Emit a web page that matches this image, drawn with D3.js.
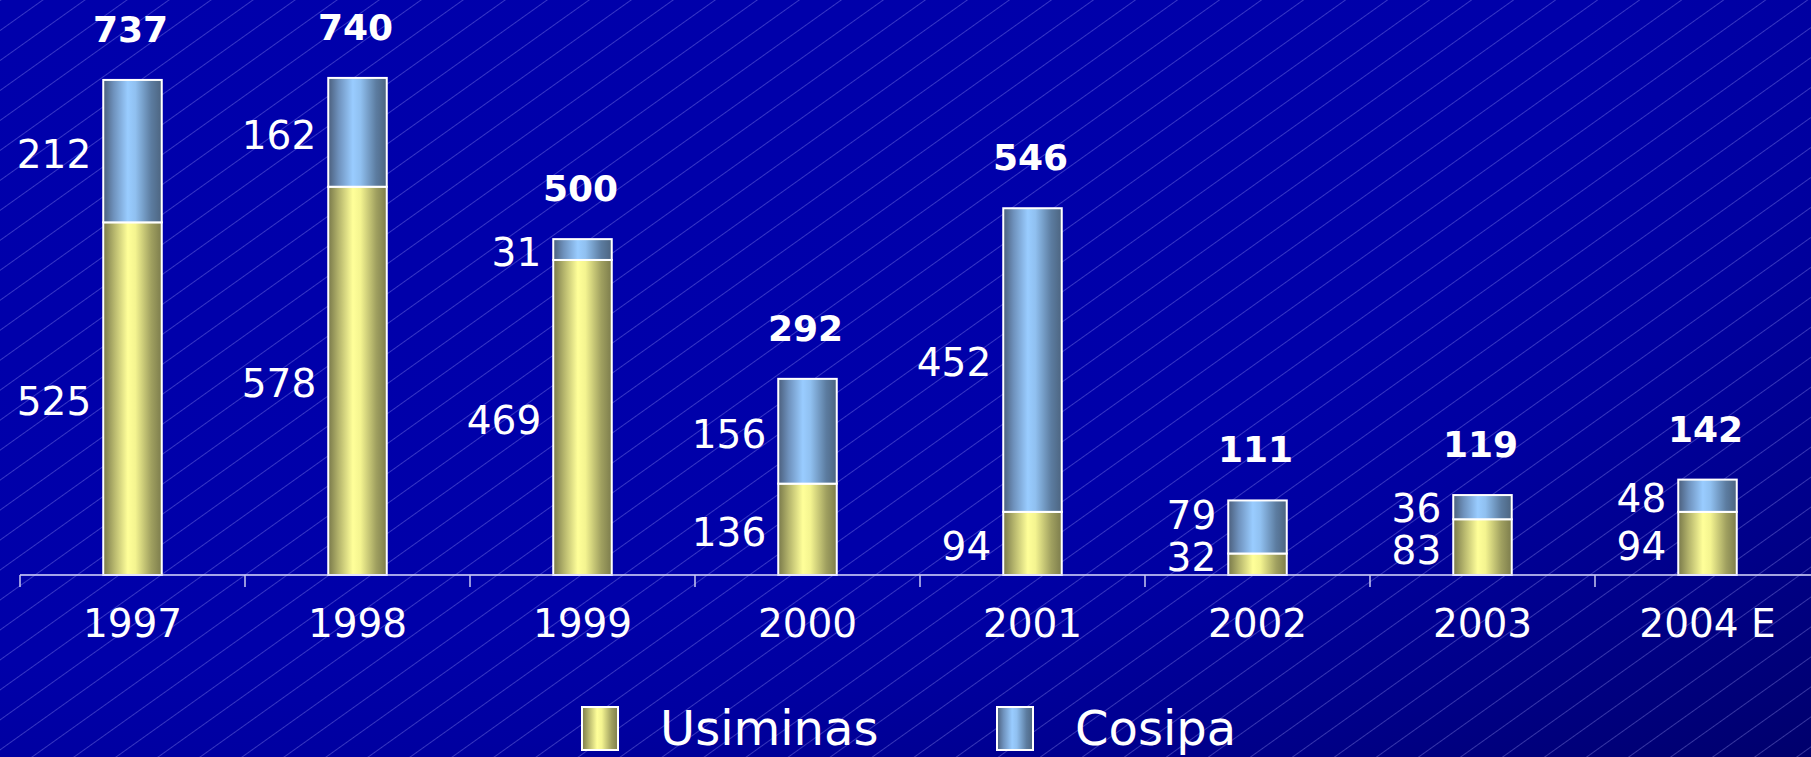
<!DOCTYPE html>
<html>
<head>
<meta charset="utf-8">
<script src="https://cdn.jsdelivr.net/npm/d3@7"></script>
<style>
  html, body { margin: 0; padding: 0; background: #0000aa; overflow: hidden; }
  svg { display: block; font-family: "DejaVu Sans", Verdana, sans-serif; }
</style>
</head>
<body>
<svg id="chart"></svg>
<script>
// data
const years = ["1997", "1998", "1999", "2000", "2001", "2002", "2003", "2004 E"];
const usiminas = [525, 578, 469, 136, 94, 32, 83, 94];
const cosipa = [212, 162, 31, 156, 452, 79, 36, 48];
const totals = [737, 740, 500, 292, 546, 111, 119, 142];
const seriesNames = ["Usiminas", "Cosipa"];

const width = 1811;
const height = 757;
const axisY = 575;
const labelSize = 39;

const svg = d3.select("#chart")
  .attr("width", width)
  .attr("height", height);

const defs = svg.append("defs");

// background: blue, darker towards bottom-right
const bg = defs.append("radialGradient")
  .attr("id", "bgGrad")
  .attr("cx", 0).attr("cy", 0).attr("r", 1.414)
  .attr("fx", 0).attr("fy", 0);
bg.append("stop").attr("offset", "0").attr("stop-color", "#0000ab");
bg.append("stop").attr("offset", "0.62").attr("stop-color", "#0000a9");
bg.append("stop").attr("offset", "0.72").attr("stop-color", "#0000a0");
bg.append("stop").attr("offset", "0.86").attr("stop-color", "#000088");
bg.append("stop").attr("offset", "1").attr("stop-color", "#00006c");

// thin diagonal lines
const pat = defs.append("pattern")
  .attr("id", "diag")
  .attr("patternUnits", "userSpaceOnUse")
  .attr("width", 40).attr("height", 24.4)
  .attr("patternTransform", "rotate(-35.5)");
pat.append("line")
  .attr("x1", 0).attr("x2", 40).attr("y1", 0.5).attr("y2", 0.5)
  .attr("stroke", "rgba(170,170,255,0.32)")
  .attr("stroke-width", 1);

// bar gradients (cylinder look)
function barGradient(id, stops) {
  const g = defs.append("linearGradient")
    .attr("id", id)
    .attr("x1", 0).attr("x2", 1).attr("y1", 0).attr("y2", 0);
  stops.forEach(s => g.append("stop").attr("offset", s[0]).attr("stop-color", s[1]));
}
barGradient("gradUsi", [[0, "#78784a"], [0.18, "#b4b46c"], [0.42, "#ffff99"], [0.55, "#f4f490"], [0.82, "#a0a060"], [1, "#7c7c4c"]]);
barGradient("gradCos", [[0, "#4a5e7c"], [0.18, "#6f92bd"], [0.42, "#99ccff"], [0.55, "#90c0f0"], [0.82, "#5c7ca0"], [1, "#4c6480"]]);
const fills = ["url(#gradUsi)", "url(#gradCos)"];

svg.append("rect").attr("width", width).attr("height", height).attr("fill", "url(#bgGrad)");
svg.append("rect").attr("width", width).attr("height", height).attr("fill", "url(#diag)");

// scales
const x = d3.scaleBand()
  .domain(years)
  .range([20, 1820])
  .paddingInner(0.74)
  .paddingOuter(0.37);

const y = d3.scaleLinear()
  .domain([0, 856])
  .range([axisY, 0]);

// stacking
const rows = years.map((yr, i) => ({ year: yr, Usiminas: usiminas[i], Cosipa: cosipa[i], total: totals[i] }));
const stacked = d3.stack().keys(seriesNames)(rows);

// label positions: segment middle, kept apart so small segments don't collide
const labelY = rows.map((r, i) => {
  const low = Math.min((y(stacked[0][i][0]) + y(stacked[0][i][1])) / 2, axisY - 20);
  const high = Math.min((y(stacked[1][i][0]) + y(stacked[1][i][1])) / 2, low - 42);
  return [low, high];
});

const barGroup = svg.append("g");
stacked.forEach((layer, li) => {
  barGroup.append("g")
    .selectAll("rect")
    .data(layer)
    .join("rect")
    .attr("x", d => x(d.data.year))
    .attr("width", x.bandwidth())
    .attr("y", d => y(d[1]))
    .attr("height", d => y(d[0]) - y(d[1]))
    .attr("fill", fills[li])
    .attr("stroke", "#ffffff")
    .attr("stroke-width", 2);

  // segment value labels, left of the bar
  barGroup.append("g")
    .selectAll("text")
    .data(layer)
    .join("text")
    .attr("x", d => x(d.data.year) - 12)
    .attr("y", (d, i) => labelY[i][li])
    .attr("dy", "0.42em")
    .attr("text-anchor", "end")
    .attr("font-size", labelSize + "px")
    .attr("fill", "#ffffff")
    .text(d => d.data[layer.key]);
});

// totals above bars
svg.append("g")
  .selectAll("text")
  .data(rows)
  .join("text")
  .attr("x", d => x(d.year) + x.bandwidth() / 2 - 2)
  .attr("y", d => y(d.Usiminas + d.Cosipa) - 38)
  .attr("text-anchor", "middle")
  .attr("font-size", "36px")
  .attr("font-weight", "bold")
  .attr("fill", "#ffffff")
  .text(d => d.total);

// x axis: category labels from the band scale
const axis = svg.append("g")
  .attr("transform", `translate(0,${axisY})`)
  .call(d3.axisBottom(x).tickSize(0).tickPadding(34));
axis.select(".domain").remove();
axis.selectAll("text")
  .attr("font-size", labelSize + "px")
  .attr("font-family", "DejaVu Sans, Verdana, sans-serif")
  .attr("fill", "#ffffff");

// axis line and ticks at category boundaries
const bounds = d3.range(years.length + 1).map(i => x.range()[0] + i * x.step());
axis.append("line")
  .attr("x1", x.range()[0]).attr("x2", width)
  .attr("y1", 0).attr("y2", 0)
  .attr("stroke", "#dcdcff")
  .attr("stroke-width", 1.5);
axis.selectAll(".bound")
  .data(bounds)
  .join("line")
  .attr("class", "bound")
  .attr("x1", d => d).attr("x2", d => d)
  .attr("y1", 0).attr("y2", 12)
  .attr("stroke", "#c8c8f0")
  .attr("stroke-width", 1.5);

// legend
const legendX = [582, 997];
const legend = svg.append("g");
seriesNames.forEach((name, i) => {
  legend.append("rect")
    .attr("x", legendX[i]).attr("y", 707)
    .attr("width", 36).attr("height", 43)
    .attr("fill", fills[i])
    .attr("stroke", "#ffffff")
    .attr("stroke-width", 2);
  legend.append("text")
    .attr("x", legendX[i] + 78).attr("y", 745)
    .attr("font-size", "48px")
    .attr("fill", "#ffffff")
    .text(name);
});
</script>
</body>
</html>
